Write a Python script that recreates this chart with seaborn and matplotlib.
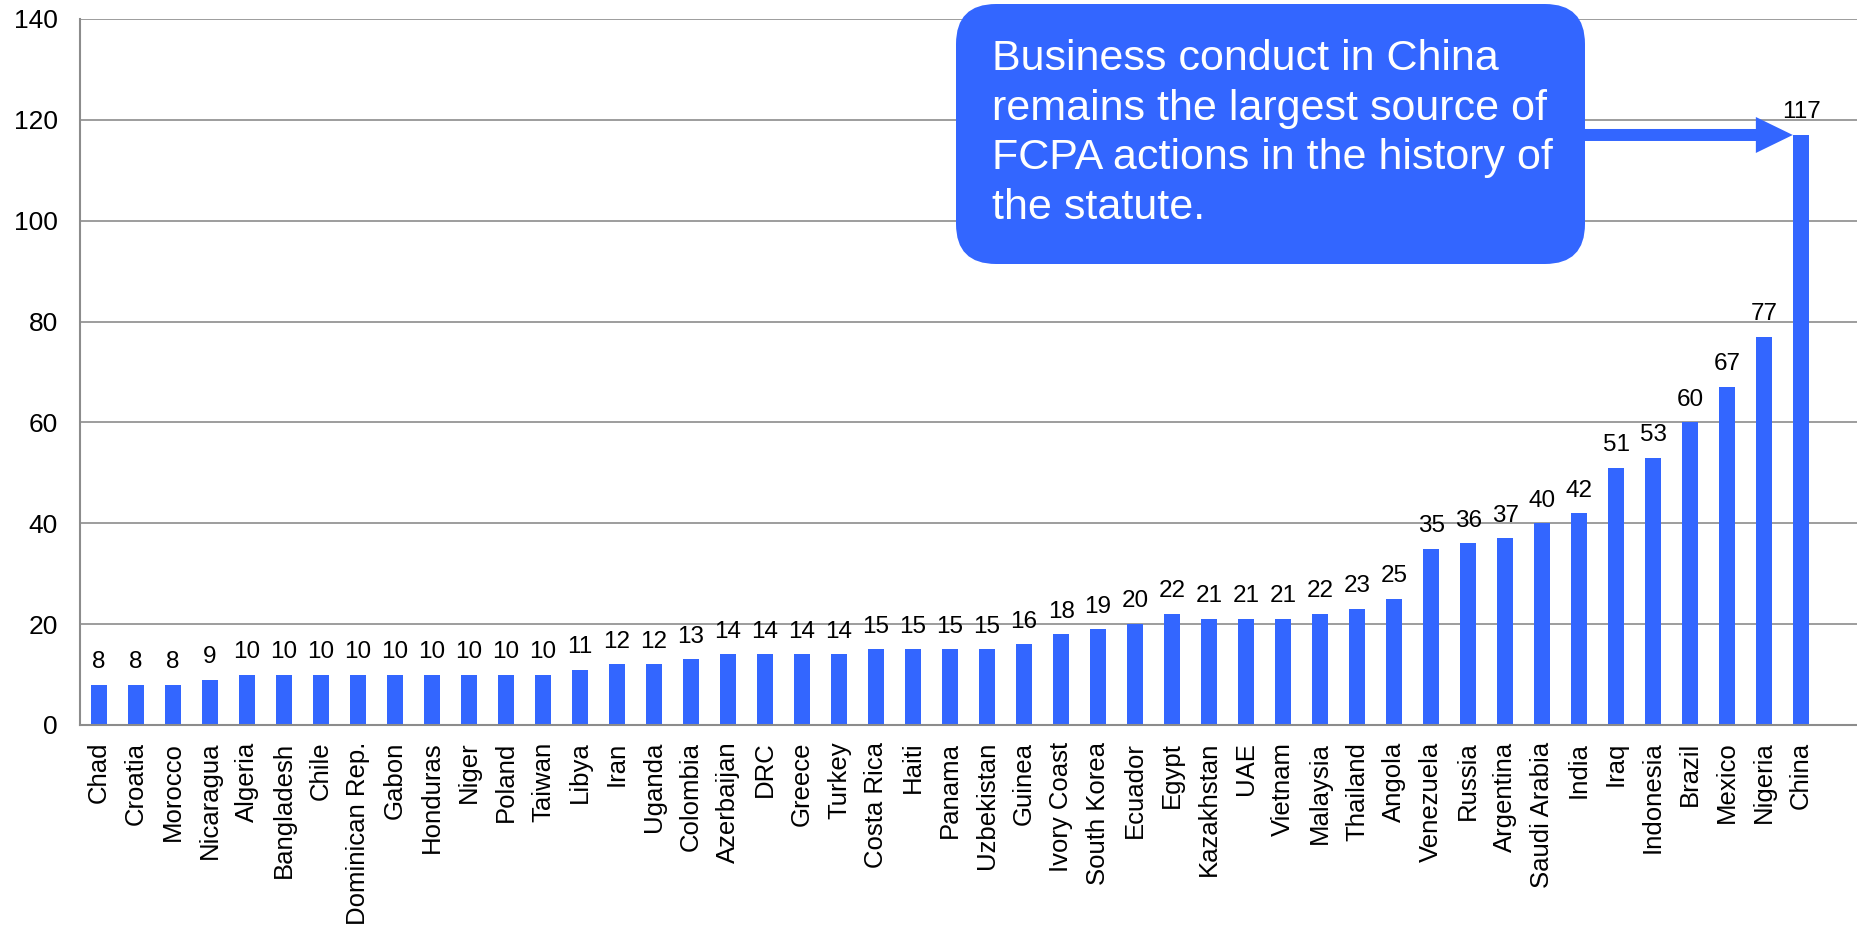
import matplotlib
matplotlib.use("Agg")
import matplotlib.pyplot as plt
import seaborn as sns
from matplotlib.patches import FancyBboxPatch

# FCPA enforcement actions by country
countries = [
    "Chad", "Croatia", "Morocco", "Nicaragua", "Algeria", "Bangladesh", "Chile",
    "Dominican Rep.", "Gabon", "Honduras", "Niger", "Poland", "Taiwan", "Libya",
    "Iran", "Uganda", "Colombia", "Azerbaijan", "DRC", "Greece", "Turkey",
    "Costa Rica", "Haiti", "Panama", "Uzbekistan", "Guinea", "Ivory Coast",
    "South Korea", "Ecuador", "Egypt", "Kazakhstan", "UAE", "Vietnam", "Malaysia",
    "Thailand", "Angola", "Venezuela", "Russia", "Argentina", "Saudi Arabia",
    "India", "Iraq", "Indonesia", "Brazil", "Mexico", "Nigeria", "China",
]
actions = [
    8, 8, 8, 9, 10, 10, 10,
    10, 10, 10, 10, 10, 10, 11,
    12, 12, 13, 14, 14, 14, 14,
    15, 15, 15, 15, 16, 18,
    19, 20, 22, 21, 21, 21, 22,
    23, 25, 35, 36, 37, 40,
    42, 51, 53, 60, 67, 77, 117,
]
y_ticks = [0, 20, 40, 60, 80, 100, 120, 140]

callout_text = ("Business conduct in China\n"
                "remains the largest source of\n"
                "FCPA actions in the history of\n"
                "the statute.")

BAR_BLUE = "#3366FF"
GRID_GREY = "#8c8c8c"
BAR_WIDTH = 0.45

sns.set_theme(style="white")
plt.rcParams["font.family"] = ["Liberation Sans", "DejaVu Sans"]

W, H = 1857, 931
fig = plt.figure(figsize=(W / 100, H / 100), dpi=100)
ax = fig.add_axes([80 / W, 1 - 725 / H, 1 - 80 / W, (725 - 19) / H])

sns.barplot(x=countries, y=actions, color=BAR_BLUE, saturation=1,
            width=BAR_WIDTH, linewidth=0, ax=ax)

ax.set_xlim(-0.514, 47.51)
ax.set_ylim(0, 140)
ax.set_yticks(y_ticks)
ax.set_xlabel("")
ax.set_ylabel("")

ax.yaxis.grid(True, color=GRID_GREY, linewidth=1.2)
ax.xaxis.grid(False)
ax.set_axisbelow(True)
for side in ("top", "right"):
    ax.spines[side].set_visible(False)
for side in ("left", "bottom"):
    ax.spines[side].set_color(GRID_GREY)
    ax.spines[side].set_linewidth(1.5)

ax.tick_params(axis="y", length=0, labelsize=19, pad=16, colors="black")
ax.tick_params(axis="x", length=0, labelsize=18.5, pad=12, rotation=90,
               colors="black")

# value labels above each bar
for i, v in enumerate(actions):
    ax.annotate(str(v), xy=(i, v), xytext=(0, 12), textcoords="offset points",
                ha="center", va="baseline", fontsize=17.5, color="black")

# callout box
box = FancyBboxPatch((9.56, (H - 264) / 100), 6.29, 2.60,
                     boxstyle="round,pad=0,rounding_size=0.4",
                     transform=fig.dpi_scale_trans, facecolor=BAR_BLUE,
                     edgecolor="none", zorder=5)
fig.add_artist(box)

fig.text(9.92, (H - 39) / 100, callout_text, transform=fig.dpi_scale_trans,
         color="white", fontsize=31, ha="left", va="top",
         linespacing=1.31, zorder=7)

# arrow from the callout to the top of the China bar
china = len(countries) - 1
ax.annotate("", xy=(china - BAR_WIDTH / 2, actions[china]), xycoords="data",
            xytext=(1585, actions[china]), textcoords=("figure pixels", "data"),
            arrowprops=dict(arrowstyle="simple,head_length=2.66,head_width=2.59,tail_width=0.864",
                            mutation_scale=10, facecolor=BAR_BLUE,
                            edgecolor="none", shrinkA=0, shrinkB=0),
            annotation_clip=False, zorder=6)

fig.savefig("out.png", dpi=100)
